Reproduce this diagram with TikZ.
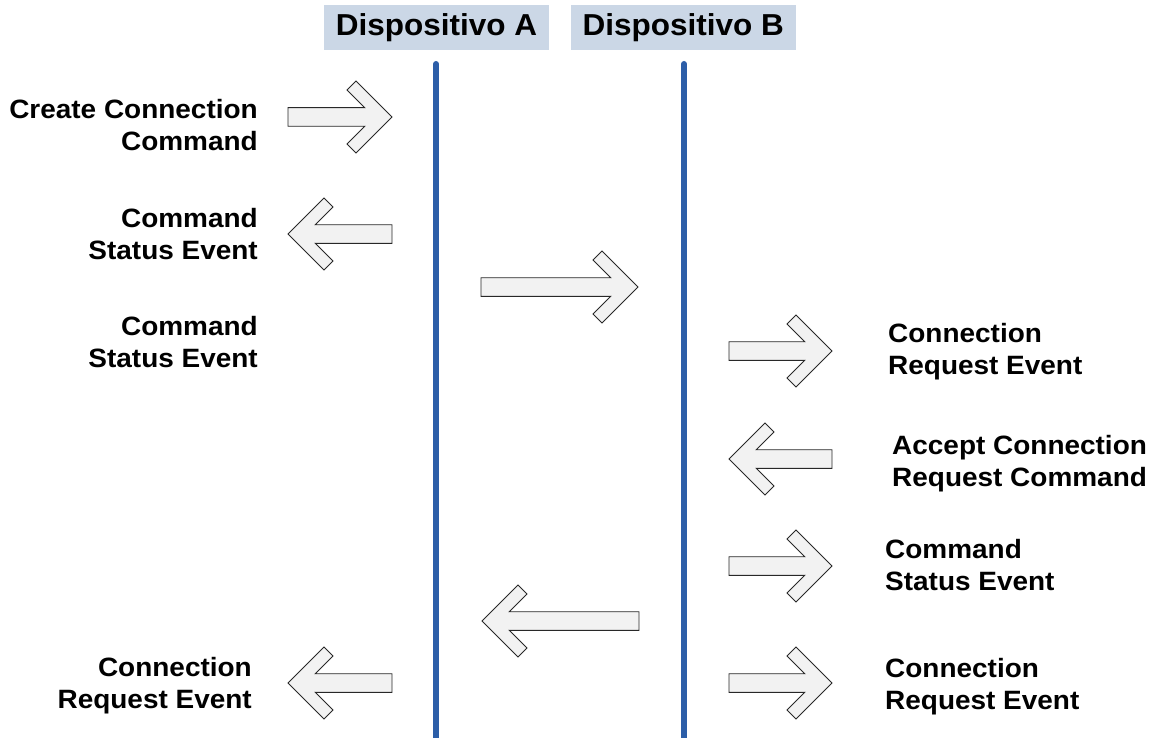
\documentclass[tikz,border=0pt]{standalone}
\usepackage{fontspec}
\setmainfont{Liberation Sans}[FakeStretch=1.04]
\newfontfamily\lblfont{Liberation Sans}[FakeStretch=1.055]
\definecolor{hdrfill}{RGB}{203,215,230}
\definecolor{lifeblue}{RGB}{44,94,168}
\definecolor{arrowfill}{RGB}{242,242,242}
\definecolor{arrowline}{RGB}{40,40,40}
\tikzset{
  hdr/.style={fill=hdrfill, minimum width=225pt, minimum height=45pt, inner sep=0pt,
    font=\fontsize{30.3}{36}\selectfont\bfseries},
  lifeline/.style={draw=lifeblue, line width=6pt, line cap=round},
  lbl/.style={inner sep=0pt, font=\lblfont\fontsize{26.5}{32}\selectfont\bfseries},
  lblL/.style={lbl, align=right, anchor=north east},
  lblR/.style={lbl, align=left, anchor=north west},
  arrowshape/.style={fill=arrowfill, draw=arrowline, line width=0.9pt, line join=miter},
  % block arrow with a chevron head: tail at the origin, tip at (#1,0)
  chev/.pic={
    \draw[arrowshape] (0,-9.3) -- ({#1-27.3},-9.3) -- ({#1-45},-27) -- ({#1-36},-36)
      -- (#1,0) -- ({#1-36},36) -- ({#1-45},27) -- ({#1-27.3},9.3) -- (0,9.3) -- cycle;
  }
}
\begin{document}
\begin{tikzpicture}[x=1pt,y=-1pt]
\useasboundingbox (0,0) rectangle (1153,738);

% device headers
\node[hdr] (devA) at (436.5,27.5) {Dispositivo A};
\node[hdr] (devB) at (683.2,27.5) {Dispositivo B};

% lifelines
\coordinate (topA) at (436,64);
\coordinate (botA) at (436,760);
\coordinate (topB) at (684,64);
\coordinate (botB) at (684,760);
\draw[lifeline] (topA) -- (botA);
\draw[lifeline] (topB) -- (botB);

% messages
\pic at (288,117) {chev=104};
\pic[xscale=-1] at (392,234) {chev=104};
\pic at (481,287) {chev=157};
\pic at (729,351) {chev=103};
\pic[xscale=-1] at (832,459) {chev=103};
\pic at (729,566) {chev=103};
\pic[xscale=-1] at (639,621) {chev=157};
\pic[xscale=-1] at (392,683) {chev=104};
\pic at (729,683) {chev=103};

% labels on the side of device A
\node[lblL] (l1) at (258,99) {Create Connection\\Command};
\node[lblL] (l2) at (258,208) {Command\\Status Event};
\node[lblL] (l3) at (258,316) {Command\\Status Event};
\node[lblL] (l4) at (252,657) {Connection\\Request Event};

% labels on the side of device B
\node[lblR] (r1) at (888,323) {Connection\\Request Event};
\node[lblR] (r2) at (892,435) {Accept Connection\\Request Command};
\node[lblR] (r3) at (885,539) {Command\\Status Event};
\node[lblR] (r4) at (885,658) {Connection\\Request Event};
\end{tikzpicture}
\end{document}
